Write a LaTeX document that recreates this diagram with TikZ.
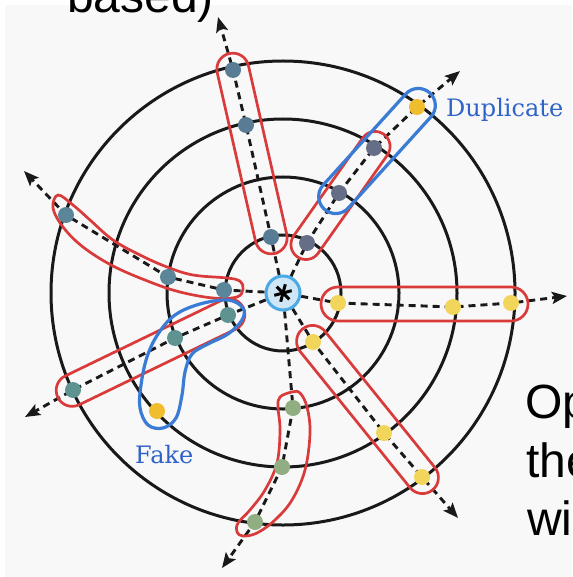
\documentclass[tikz,border=0pt]{standalone}
\usepackage{fontspec}
\newfontfamily\tagfont{DejaVu Serif}
\newfontfamily\slidefont{Liberation Sans}
\usetikzlibrary{arrows.meta,backgrounds,calc}
\definecolor{panel}{HTML}{F8F8F8}
\definecolor{blobred}{HTML}{D93A3A}
\definecolor{blobblue}{HTML}{3A7BD5}
\definecolor{tagblue}{HTML}{2F63C9}
\definecolor{hubfill}{HTML}{CFE6F7}
\definecolor{hubline}{HTML}{4BA9E6}
\definecolor{slateA}{HTML}{587C94}
\definecolor{slateB}{HTML}{5B8598}
\definecolor{slateC}{HTML}{656D87}
\definecolor{paleyel}{HTML}{F2D65C}
\definecolor{sage}{HTML}{91AD82}
\definecolor{tealdot}{HTML}{5F9392}
\definecolor{dupgold}{HTML}{F0BD2E}

\begin{document}
\begin{tikzpicture}[x=1pt,y=-1pt,
  ring/.style={draw=black!90,line width=3pt},
  ray/.style={draw=black!90,line width=2.9pt,dash pattern=on 7pt off 5pt,-{Stealth[length=15pt,width=12pt,inset=3pt]}},
  dot/.style={circle,fill=#1,inner sep=0pt,minimum size=16pt},
  hub/.style={circle,fill=hubfill,draw=hubline,line width=3pt,inner sep=0pt,minimum size=34pt},
  blob/.style={draw=blobred,line width=2.7pt},
  pill/.style={blob,inner sep=0pt,minimum height=32pt,rounded corners=16pt},
  bluepill/.style={pill,draw=blobblue,line width=3.2pt},
  tagtext/.style={inner sep=0pt,anchor=base west,text=tagblue,font=\tagfont\fontsize{24}{28}\selectfont},
  slidetext/.style={inner sep=0pt,anchor=base west,font=\slidefont\fontsize{48}{58}\selectfont}]
\useasboundingbox (0,0) rectangle (572,577);
\clip (0,0) rectangle (572,577);

% hub
\node[hub] (o) at (283,293) {};
\foreach \a in {15,75,135}
  \draw[line width=3pt] ($(o)+(\a:9pt)$) -- ($(o)+(\a+180:9pt)$);

% red groups
\node[pill,minimum width=205pt,rotate=102.8] (pa) at (252,153.5) {};
\node[pill,minimum width=207pt,minimum height=34pt,rounded corners=17pt] (pd) at (424.5,304) {};
\node[pill,minimum width=207pt,rotate=-51.1] (pe) at (367.5,409.5) {};
\node[pill,minimum width=150pt,minimum height=30pt,rounded corners=15pt,rotate=54.8] (pc) at (340.5,195.5) {};
\node[pill,minimum width=206pt,rotate=25.8] (pg) at (150.5,352.5) {};
\draw[blob] plot[smooth cycle,tension=0.6] coordinates {(58,195) (73,205) (90,220) (113,240) (140,255)
  (167,267) (193,275) (227,278) (240,281) (243,289) (237,297) (213,298) (180,292) (150,282)
  (113,266) (83,247) (63,227) (53,208)};
\draw[blob] plot[smooth cycle,tension=0.6] coordinates {(292,392) (280,397) (278,407) (280,430)
  (277,463) (265,490) (250,510) (238,523) (237,532) (243,536) (257,533) (275,520) (292,500)
  (305,470) (310,433) (307,407) (300,393)};

% blue groups
\node[bluepill,minimum width=157pt,minimum height=34pt,rounded corners=17pt,rotate=47.8] (dup) at (377,151) {};
\draw[blob,draw=blobblue,line width=3.2pt] plot[smooth cycle,tension=0.6] coordinates {(228,300)
  (243,308) (242,320) (228,334) (208,344) (192,354) (185,372) (182,395) (176,418) (163,428)
  (148,425) (140,408) (141,385) (147,357) (158,334) (175,315) (200,304)};

% samples
\node[dot=slateA] (a1) at (271,237) {};
\node[dot=slateA] (a2) at (246,125) {};
\node[dot=slateA] (a3) at (233,70) {};
\node[dot=slateB] (b1) at (224,290) {};
\node[dot=slateB] (b2) at (168,277) {};
\node[dot=slateB] (b3) at (66,215) {};
\node[dot=slateC] (c1) at (307,243) {};
\node[dot=slateC] (c2) at (339,193) {};
\node[dot=slateC] (c3) at (374,148) {};
\node[dot=dupgold] (c4) at (417,107) {};
\node[dot=paleyel] (d1) at (338,303) {};
\node[dot=paleyel] (d2) at (453,307) {};
\node[dot=paleyel] (d3) at (511,303) {};
\node[dot=paleyel] (e1) at (313,342) {};
\node[dot=paleyel] (e2) at (384,433) {};
\node[dot=paleyel] (e3) at (422,477) {};
\node[dot=sage] (f1) at (293,408) {};
\node[dot=sage] (f2) at (282,467) {};
\node[dot=sage] (f3) at (255,522) {};
\node[dot=tealdot] (g1) at (228,315) {};
\node[dot=tealdot] (g2) at (175,338) {};
\node[dot=tealdot] (g3) at (73,390) {};
\node[dot=dupgold] (fk) at (157,411) {};

\coordinate (ta) at (218,17);
\coordinate (tb) at (24,171);
\coordinate (tc) at (460,71);
\coordinate (td) at (567,296);
\coordinate (te) at (458,518);
\coordinate (tf) at (222,568);
\coordinate (tg) at (25,417);

\node[tagtext] (duptag) at (446,117) {Duplicate};
\node[tagtext] (faketag) at (135,463) {Fake};

% slide text around the figure
\node[slidetext] (title) at (67,12.5) {based)};
\node[slidetext] (line1) at (525,418) {Op};
\node[slidetext] (line2) at (526,477) {the};
\node[slidetext] (line3) at (527,535) {wi};

\begin{pgfonlayer}{background}
\fill[panel] (5,5) rectangle (572,577);
\foreach \r in {58pt,116pt,174pt,232pt}
  \draw[ring] (o.center) circle[radius=\r];
\draw[ray] (o) -- (a1.center) -- (a2.center) -- (a3.center) -- (ta);
\draw[ray] (o) -- (b1.center) -- (b2.center) -- (b3.center) -- (tb);
\draw[ray] (o) -- (c1.center) -- (c2.center) -- (c3.center) -- (c4.center) -- (tc);
\draw[ray] (o) -- (d1.center) -- (d2.center) -- (d3.center) -- (td);
\draw[ray] (o) -- (e1.center) -- (e2.center) -- (e3.center) -- (te);
\draw[ray] (o) -- (f1.center) -- (f2.center) -- (f3.center) -- (tf);
\draw[ray] (o) -- (g1.center) -- (g2.center) -- (g3.center) -- (tg);
\end{pgfonlayer}
\end{tikzpicture}
\end{document}
